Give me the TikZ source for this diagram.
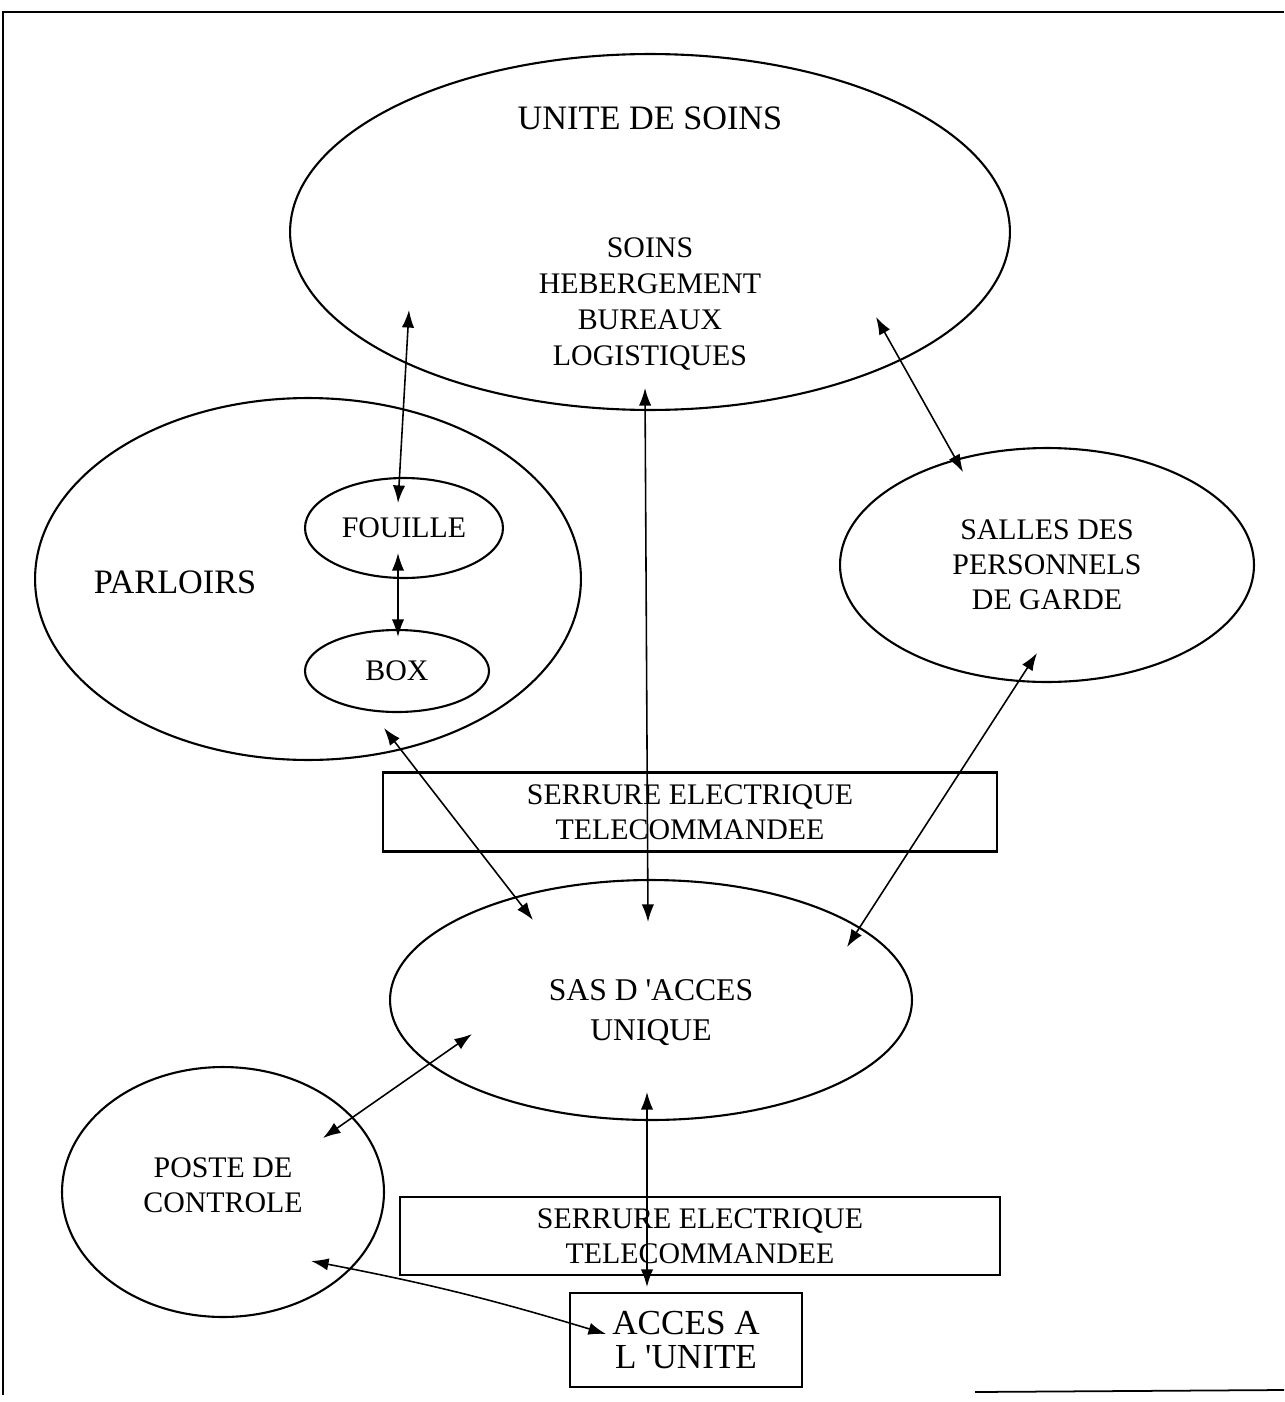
\documentclass[tikz,border=0pt]{standalone}
\usepackage{fontspec}
\setmainfont{Liberation Serif}
\usetikzlibrary{shapes.geometric,arrows.meta}

\begin{document}
\begin{tikzpicture}[
    x=0.02cm, y=-0.02cm,
    zone/.style={ellipse, draw, line width=1.2pt, inner sep=0pt, align=center},
    panel/.style={rectangle, draw, line width=1.2pt, inner sep=0pt, align=center},
    big/.style={font=\fontsize{19.5}{23}\selectfont},
    mid/.style={font=\fontsize{17}{20}\selectfont},
    arrow/.style={<->, >={Latex[length=10pt,width=7pt]}, line width=0.9pt}
]
    \useasboundingbox (0,0) rectangle (1284,1402);
    % frame of the scanned page
    \draw[line width=1.2pt] (1284,12) -- (3,12) -- (3,1395);
    \draw[line width=1pt] (975,1392) -- (1284,1390);

    \node[zone, minimum width=14.4cm, minimum height=7.12cm] (unite) at (650,232) {};
    \node[big] (uniteTitle) at (650,118) {UNITE DE SOINS};
    \node[mid, align=center, font=\fontsize{17}{20.4}\selectfont] (uniteText) at (650,304) {SOINS\\HEBERGEMENT\\BUREAUX\\LOGISTIQUES};

    \node[zone, minimum width=10.92cm, minimum height=7.24cm] (parloirs) at (308,579) {};
    \node[big] (parloirsTitle) at (175,582) {PARLOIRS};
    \node[zone, mid, minimum width=3.96cm, minimum height=2cm] (fouille) at (404,528) {FOUILLE};
    \node[zone, mid, minimum width=3.68cm, minimum height=1.64cm] (box) at (397,671) {BOX};

    \node[zone, mid, minimum width=8.28cm, minimum height=4.68cm] (salles) at (1047,565) {SALLES DES\\PERSONNELS\\DE GARDE};

    \node[panel, mid, minimum width=12.28cm, minimum height=1.58cm] (serrureHaut) at (690,812) {SERRURE ELECTRIQUE\\TELECOMMANDEE};

    \node[zone, minimum width=10.44cm, minimum height=4.8cm] (sas) at (651,1000) {};
    \node[font=\fontsize{18}{22.7}\selectfont, align=center] (sasText) at (651,1013) {SAS D \textquotesingle ACCES\\UNIQUE};

    \node[zone, mid, minimum width=6.44cm, minimum height=5cm] (poste) at (223,1192) {};
    \node[mid, align=center] (posteText) at (223,1185) {POSTE DE\\CONTROLE};

    \node[panel, mid, minimum width=12cm, minimum height=1.56cm] (serrureBas) at (700,1236) {SERRURE ELECTRIQUE\\TELECOMMANDEE};
    \node[panel, font=\fontsize{20}{19.5}\selectfont, minimum width=4.64cm, minimum height=1.88cm] (acces) at (686,1340) {ACCES A\\L \textquotesingle UNITE};

    % arrow ends
    \coordinate (uniteFouille) at (409,310);
    \coordinate (fouilleUnite) at (398,503);
    \coordinate (fouilleBox) at (398,553);
    \coordinate (boxFouille) at (398,637);
    \coordinate (uniteSas) at (645,388);
    \coordinate (sasUnite) at (648,922);
    \coordinate (uniteSalles) at (876,317);
    \coordinate (sallesUnite) at (963,472);
    \coordinate (parloirsSas) at (384,728);
    \coordinate (sasParloirs) at (533,920);
    \coordinate (sallesSas) at (1037,653);
    \coordinate (sasSalles) at (847,947);
    \coordinate (sasPoste) at (472,1034);
    \coordinate (posteSas) at (323,1138);
    \coordinate (sasAcces) at (647,1092);
    \coordinate (accesSas) at (647,1287);
    \coordinate (posteAcces) at (311,1261);
    \coordinate (accesPoste) at (606,1334);

    \draw[arrow] (uniteFouille) -- (fouilleUnite);
    \draw[arrow] (fouilleBox) -- (boxFouille);
    \draw[arrow] (uniteSas) -- (sasUnite);
    \draw[arrow] (uniteSalles) -- (sallesUnite);
    \draw[arrow] (parloirsSas) -- (sasParloirs);
    \draw[arrow] (sallesSas) -- (sasSalles);
    \draw[arrow] (sasPoste) -- (posteSas);
    \draw[arrow] (sasAcces) -- (accesSas);
    \draw[arrow] (posteAcces) to[bend left=3] (accesPoste);
\end{tikzpicture}
\end{document}
